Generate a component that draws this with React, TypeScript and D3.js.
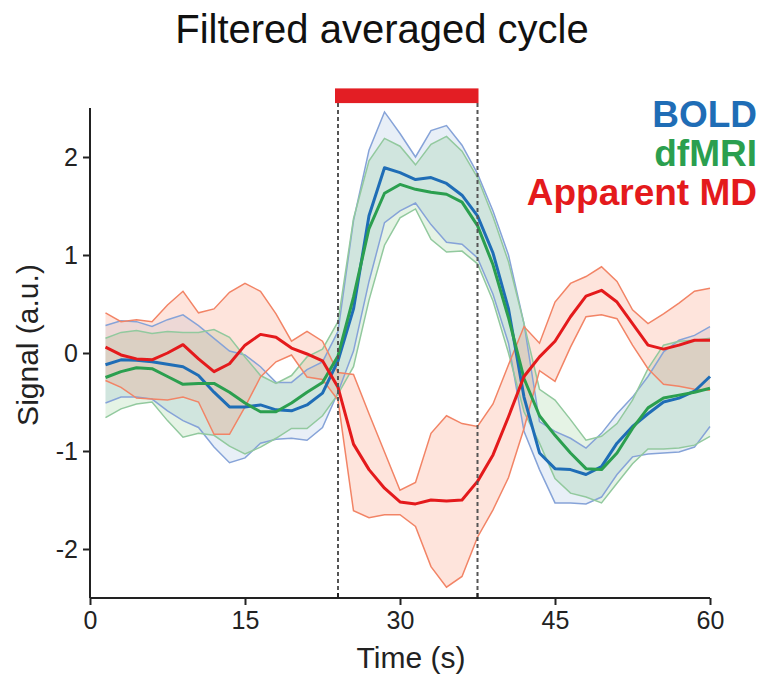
import React, { useRef, useEffect } from 'react';
import * as d3 from 'd3';

// time points (s), one every 1.5 s
const times = d3.range(1, 41).map(i => i * 1.5);

const boldMean = [-0.12, -0.07, -0.075, -0.09, -0.115, -0.14, -0.23, -0.40, -0.55, -0.55, -0.53, -0.58, -0.59, -0.53, -0.41, -0.08, 0.45, 1.40, 1.89, 1.84, 1.77, 1.79, 1.73, 1.61, 1.40, 1.02, 0.45, -0.45, -1.02, -1.18, -1.19, -1.24, -1.16, -0.92, -0.75, -0.62, -0.50, -0.46, -0.39, -0.24];
const boldUpper = [0.28, 0.33, 0.32, 0.27, 0.34, 0.39, 0.28, 0.15, 0.02, -0.02, -0.14, -0.30, -0.30, -0.17, -0.09, 0.22, 1.35, 2.07, 2.46, 2.24, 2.00, 2.27, 2.32, 2.12, 1.83, 1.45, 1.00, 0.30, -0.70, -0.80, -0.87, -0.97, -0.82, -0.62, -0.45, -0.24, 0.01, 0.13, 0.18, 0.27];
const boldLower = [-0.51, -0.45, -0.45, -0.47, -0.59, -0.69, -0.76, -0.96, -1.12, -1.07, -0.92, -0.88, -0.87, -0.89, -0.76, -0.40, 0.02, 0.73, 1.33, 1.45, 1.53, 1.31, 1.13, 1.11, 0.97, 0.60, 0.10, -0.80, -1.19, -1.53, -1.53, -1.54, -1.47, -1.24, -1.06, -1.03, -1.02, -1.01, -0.96, -0.75];

const dfMean = [-0.25, -0.19, -0.15, -0.16, -0.24, -0.32, -0.31, -0.31, -0.40, -0.51, -0.60, -0.60, -0.51, -0.40, -0.30, -0.03, 0.57, 1.27, 1.63, 1.72, 1.67, 1.64, 1.62, 1.54, 1.30, 0.90, 0.36, -0.26, -0.64, -0.84, -1.02, -1.18, -1.19, -1.02, -0.77, -0.56, -0.46, -0.43, -0.40, -0.36];
const dfUpper = [0.15, 0.21, 0.23, 0.20, 0.22, 0.21, 0.21, 0.24, 0.16, -0.04, -0.23, -0.31, -0.23, -0.04, 0.04, 0.32, 1.37, 1.96, 2.19, 2.11, 1.92, 2.13, 2.21, 2.06, 1.79, 1.39, 0.93, 0.30, -0.37, -0.48, -0.68, -0.89, -0.85, -0.72, -0.48, -0.16, 0.08, 0.12, 0.13, 0.15];
const dfLower = [-0.66, -0.57, -0.52, -0.50, -0.69, -0.86, -0.82, -0.84, -0.95, -1.03, -0.96, -0.87, -0.77, -0.77, -0.64, -0.42, -0.14, 0.54, 1.10, 1.38, 1.47, 1.16, 1.03, 1.04, 0.91, 0.53, 0.00, -0.60, -0.92, -1.28, -1.43, -1.47, -1.53, -1.33, -1.13, -0.98, -0.98, -0.97, -0.94, -0.85];

const mdMean = [0.06, -0.02, -0.06, -0.07, 0.0, 0.085, -0.06, -0.19, -0.11, 0.08, 0.19, 0.16, 0.05, -0.01, -0.08, -0.35, -0.93, -1.19, -1.38, -1.52, -1.54, -1.50, -1.51, -1.50, -1.31, -1.04, -0.65, -0.24, -0.04, 0.12, 0.37, 0.58, 0.64, 0.52, 0.30, 0.08, 0.04, 0.08, 0.13, 0.13];
const mdUpper = [0.41, 0.32, 0.34, 0.32, 0.49, 0.63, 0.41, 0.45, 0.62, 0.71, 0.63, 0.40, 0.12, 0.22, 0.12, -0.20, -0.22, -0.62, -1.01, -1.40, -1.32, -0.82, -0.64, -0.72, -0.75, -0.52, -0.12, 0.27, 0.10, 0.52, 0.71, 0.78, 0.88, 0.73, 0.44, 0.30, 0.40, 0.51, 0.63, 0.66];
const mdLower = [-0.28, -0.35, -0.46, -0.47, -0.48, -0.45, -0.50, -0.83, -0.83, -0.55, -0.245, -0.09, -0.02, -0.245, -0.27, -0.48, -1.61, -1.68, -1.65, -1.65, -1.77, -2.18, -2.39, -2.28, -1.88, -1.60, -1.27, -0.77, -0.18, -0.29, 0.06, 0.37, 0.39, 0.35, 0.08, -0.16, -0.32, -0.34, -0.37, -0.38];

const stimulus = [24, 37.5];
const xTicks = [0, 15, 30, 45, 60];
const yTicks = [-2, -1, 0, 1, 2];

const series = [
    { name: "BOLD", mean: boldMean, upper: boldUpper, lower: boldLower, color: "#1f6db6", fill: "#2166ac", fillOpacity: 0.1, edge: "#86a3d8" },
    { name: "dfMRI", mean: dfMean, upper: dfUpper, lower: dfLower, color: "#2b9f4f", fill: "#2ca02c", fillOpacity: 0.12, edge: "#92c99e" },
    { name: "Apparent MD", mean: mdMean, upper: mdUpper, lower: mdLower, color: "#e41a1c", fill: "#fc9272", fillOpacity: 0.25, edge: "#f28466" }
];

const App = () => {
    const ref = useRef(null);

    useEffect(() => {
        const svg = d3.select(ref.current);
        svg.selectAll("*").remove();

        const font = "'Liberation Sans', Arial, Helvetica, sans-serif";
        const x = d3.scaleLinear().domain([0, 60]).range([90, 710]);
        const y = d3.scaleLinear().domain([-2.5, 2.5]).range([598, 108]);

        // bands
        series.forEach(s => {
            const area = d3.area()
                .x((d, i) => x(times[i]))
                .y0((d, i) => y(s.lower[i]))
                .y1((d, i) => y(s.upper[i]));
            svg.append("path")
                .attr("d", area(times))
                .attr("fill", s.fill)
                .attr("fill-opacity", s.fillOpacity);
        });

        series.forEach(s => {
            [s.upper, s.lower].forEach(arr => {
                const line = d3.line().x((d, i) => x(times[i])).y(d => y(d));
                svg.append("path")
                    .attr("d", line(arr))
                    .attr("fill", "none")
                    .attr("stroke", s.edge)
                    .attr("stroke-width", 1.5);
            });
        });

        series.forEach(s => {
            const line = d3.line().x((d, i) => x(times[i])).y(d => y(d));
            svg.append("path")
                .attr("d", line(s.mean))
                .attr("fill", "none")
                .attr("stroke", s.color)
                .attr("stroke-width", 3)
                .attr("stroke-linejoin", "round");
        });

        // stimulus period
        svg.selectAll(".stim")
            .data(stimulus)
            .enter().append("line")
            .attr("x1", d => x(d)).attr("x2", d => x(d))
            .attr("y1", y(2.55)).attr("y2", y(-2.5))
            .attr("stroke", "#555")
            .attr("stroke-width", 2)
            .attr("stroke-dasharray", "4,3");

        svg.append("rect")
            .attr("x", x(stimulus[0]) - 3)
            .attr("y", y(2.7))
            .attr("width", x(stimulus[1]) - x(stimulus[0]) + 4)
            .attr("height", y(2.55) - y(2.7))
            .attr("fill", "#e31e24");

        // axes
        const xAxis = svg.append("g")
            .attr("transform", `translate(0,${y(-2.5)})`)
            .call(d3.axisBottom(x).tickValues(xTicks).tickSize(7).tickPadding(6).tickFormat(d => String(d)));
        xAxis.append("g").selectAll("line")
            .data(stimulus)
            .enter().append("line")
            .attr("x1", d => x(d)).attr("x2", d => x(d))
            .attr("y1", 0).attr("y2", -5)
            .attr("stroke", "#222").attr("stroke-width", 2);

        const yAxis = svg.append("g")
            .attr("transform", `translate(${x(0)},0)`)
            .call(d3.axisLeft(y).tickValues(yTicks).tickSize(7).tickPadding(5).tickFormat(d => String(d)));

        [xAxis, yAxis].forEach(g => {
            g.select(".domain").attr("stroke", "#222").attr("stroke-width", 2);
            g.selectAll(".tick line").attr("stroke", "#222").attr("stroke-width", 2);
            g.selectAll(".tick text")
                .attr("font-family", font)
                .attr("font-size", 25)
                .attr("fill", "#222");
        });
        xAxis.select(".domain").attr("d", `M${x(0)},0H${x(60)}`);
        yAxis.select(".domain").attr("d", `M0,${y(2.5)}V${y(-2.5)}`);

        svg.append("text")
            .attr("x", 411).attr("y", 668)
            .attr("text-anchor", "middle")
            .attr("font-family", font).attr("font-size", 30).attr("fill", "#222")
            .text("Time (s)");

        svg.append("text")
            .attr("transform", `translate(38,345) rotate(-90)`)
            .attr("text-anchor", "middle")
            .attr("font-family", font).attr("font-size", 30).attr("fill", "#222")
            .text("Signal (a.u.)");

        svg.append("text")
            .attr("x", 382).attr("y", 43)
            .attr("text-anchor", "middle")
            .attr("font-family", font).attr("font-size", 40).attr("fill", "#111")
            .text("Filtered averaged cycle");

        series.forEach((s, i) => {
            svg.append("text")
                .attr("x", 757).attr("y", 127 + i * 39)
                .attr("text-anchor", "end")
                .attr("font-family", font).attr("font-size", 37).attr("font-weight", "bold")
                .attr("fill", s.color)
                .text(s.name);
        });
    }, []);

    return (
        <svg ref={ref} width={760} height={680} style={{ display: "block", position: "absolute", left: 0, top: 0 }}></svg>
    );
};

export default App;
